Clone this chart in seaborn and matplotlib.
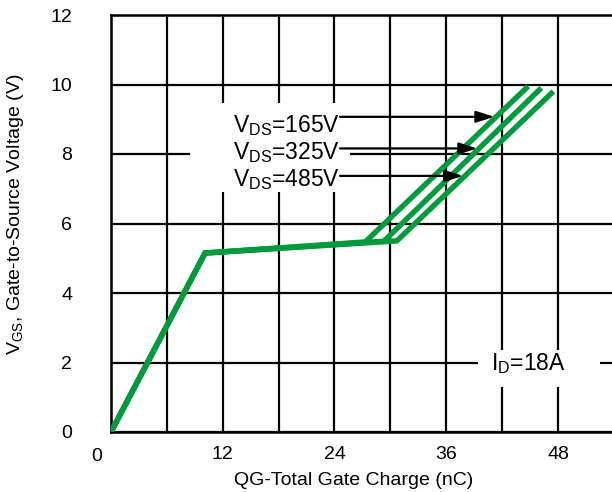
import numpy as np
import pandas as pd
import matplotlib
matplotlib.use("Agg")
import matplotlib.pyplot as plt
from matplotlib.patches import Rectangle
import matplotlib.transforms as mtransforms
import seaborn as sns

# ---- data ----
vds_labels = ["165V", "325V", "485V"]
qg_165 = [0.0, 10.1, 27.3, 44.8]
vgs_165 = [0.0, 5.15, 5.47, 9.95]
qg_325 = [0.0, 10.1, 29.3, 46.2]
vgs_325 = [0.0, 5.15, 5.49, 9.90]
qg_485 = [0.0, 10.1, 30.7, 47.5]
vgs_485 = [0.0, 5.15, 5.50, 9.80]
arrow_vgs = [9.07, 8.16, 7.37]
x_ticks = [0, 12, 24, 36, 48]
y_ticks = [0, 2, 4, 6, 8, 10, 12]

sns.set_style("white")
plt.rcParams["font.family"] = ["Liberation Sans", "DejaVu Sans"]
plt.rcParams["mathtext.fontset"] = "custom"
plt.rcParams["mathtext.rm"] = "Liberation Sans"
plt.rcParams["mathtext.it"] = "Liberation Sans"
plt.rcParams["text.color"] = "black"
plt.rcParams["axes.labelcolor"] = "black"
plt.rcParams["xtick.color"] = "black"
plt.rcParams["ytick.color"] = "black"

series = [(qg_165, vgs_165), (qg_325, vgs_325), (qg_485, vgs_485)]
rows = []
for lab, (xs, ys) in zip(vds_labels, series):
    for i, (x, y) in enumerate(zip(xs, ys)):
        rows.append({"QG": x, "VGS": y, "VDS": lab, "order": i})
df = pd.DataFrame(rows)

fig = plt.figure(figsize=(6.12, 4.92), dpi=100)
ax = fig.add_axes([111 / 612, 60 / 492, 1 - 111 / 612, 417 / 492])

green = "#009a3e"
sns.lineplot(data=df, x="QG", y="VGS", hue="VDS", units="VDS", estimator=None,
             sort=False, palette=[green] * 3, linewidth=3.9, legend=False,
             ax=ax, zorder=3)
for ln in ax.lines:
    ln.set_solid_joinstyle("miter")
    ln.set_solid_capstyle("butt")

ax.set_xlim(0, 53.8)
ax.set_ylim(0, 12)
ax.set_xticks(x_ticks)
ax.set_xticks(np.arange(6, 54, 12), minor=True)
ax.set_yticks(y_ticks)
ax.grid(True, which="both", color="black", linewidth=1.6)
ax.set_axisbelow(True)
ax.tick_params(axis="both", which="both", length=0, labelsize=14, labelcolor="black")
ax.tick_params(axis="x", pad=10)
ax.tick_params(axis="y", pad=28)
for side in ["left", "bottom", "top"]:
    ax.spines[side].set_visible(True)
    ax.spines[side].set_color("black")
    ax.spines[side].set_linewidth(1.8)
ax.spines["right"].set_visible(False)

# shift the x "0" label left like the reference
lbl0 = ax.get_xticklabels()[0]
lbl0.set_transform(lbl0.get_transform() + mtransforms.ScaledTranslation(-14 / 100, -2 / 100, fig.dpi_scale_trans))

ax.set_xlabel("QG-Total Gate Charge (nC)", fontsize=14, color="black")
ax.xaxis.set_label_coords((354 - 111) / 501, (432 - 472) / 417)
ax.set_ylabel("V$_{\\mathrm{GS}}$, Gate-to-Source Voltage (V)", fontsize=14, color="black")
ax.yaxis.set_label_coords((26 - 111) / 501, (432 - 214) / 417)

# white backgrounds behind annotations
ax.add_patch(Rectangle((8.5, 6.9), 17.2, 2.57, facecolor="white", edgecolor="none", zorder=2))
ax.add_patch(Rectangle((39.4, 1.29), 13.1, 1.07, facecolor="white", edgecolor="none", zorder=2))

text_y = [8.64, 7.85, 7.08]
for lab, ty, ay, (xs, ys) in zip(vds_labels, text_y, arrow_vgs, series):
    ax.text(13.1, ty, "V$_{\\mathrm{DS}}$=" + lab, fontsize=16.5, ha="left", va="baseline",
            color="black", zorder=4)
    tip_x = np.interp(ay, ys[2:], xs[2:]) - 0.2
    ax.annotate("", xy=(tip_x, ay), xytext=(24.6, ay),
                arrowprops=dict(arrowstyle="-|>,head_length=1.1,head_width=0.35",
                                color="black", lw=1.6, shrinkA=0, shrinkB=0),
                zorder=5)

ax.text(40.85, 1.78, "I$_{\\mathrm{D}}$=18A", fontsize=16.5, ha="left", va="baseline",
        color="black", zorder=4)

fig.savefig("out.png", dpi=100)
